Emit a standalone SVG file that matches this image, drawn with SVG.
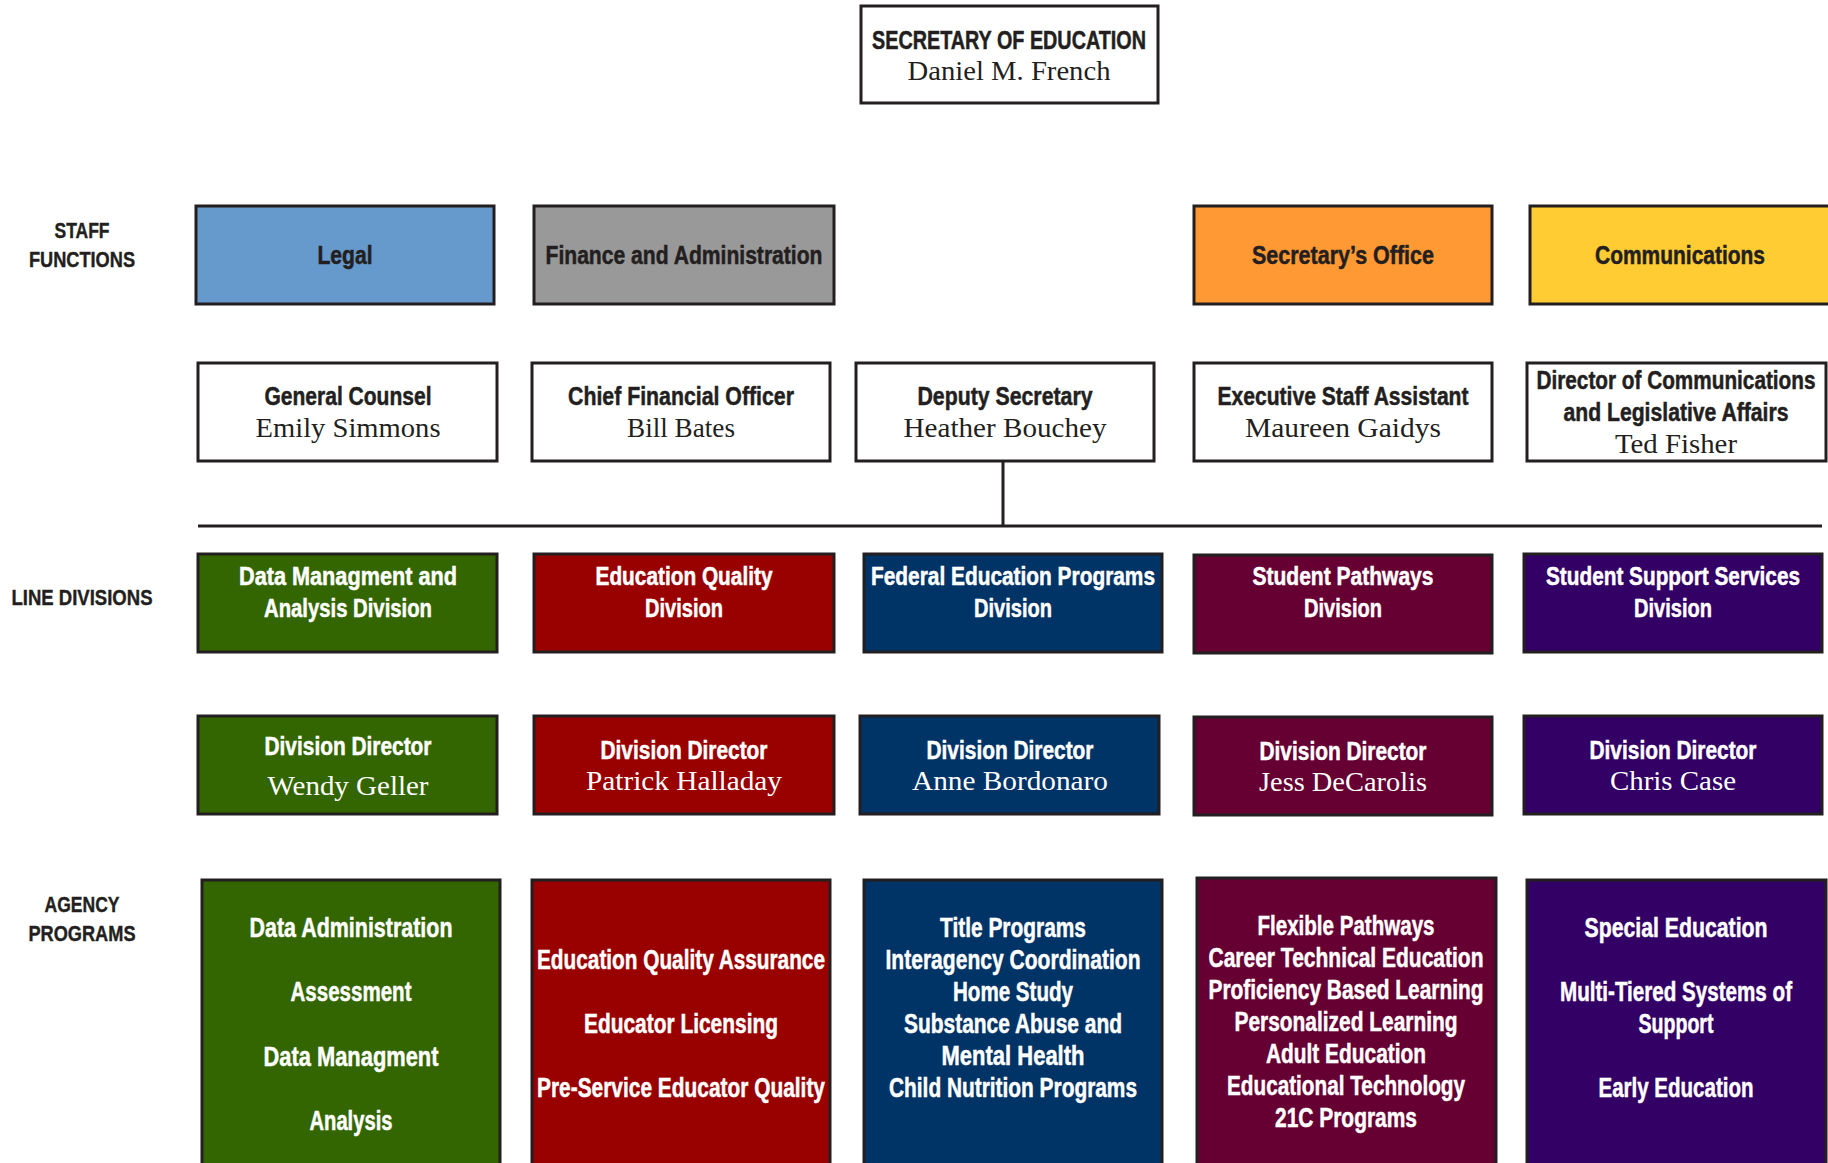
<svg xmlns="http://www.w3.org/2000/svg" width="1828" height="1163" viewBox="0 0 1828 1163">
<style>
.box{stroke:#231F20;stroke-width:3}
.w{fill:#FFFFFF}
.b{font-family:"Liberation Sans",Arial,sans-serif;font-weight:bold;font-size:25px;text-anchor:middle;fill:#231F20;stroke:#231F20;stroke-width:0.5}
.lt{fill:#FFFFFF;stroke:#FFFFFF}
.s{font-family:"Liberation Serif","DejaVu Serif",serif;font-size:28px;text-anchor:middle;fill:#231F20;stroke:none}
.sl{fill:#FFFFFF}
.p{font-family:"Liberation Sans",Arial,sans-serif;font-weight:bold;font-size:27px;text-anchor:middle;fill:#FFFFFF;stroke:#FFFFFF;stroke-width:0.5}
.lab{font-family:"Liberation Sans",Arial,sans-serif;font-weight:bold;font-size:22px;text-anchor:middle;fill:#231F20;stroke:#231F20;stroke-width:0.4}
</style>
<rect width="1828" height="1163" fill="#FFFFFF"/>

<g id="labels">
<text class="lab" x="82" y="238" textLength="55" lengthAdjust="spacingAndGlyphs">STAFF</text>
<text class="lab" x="82" y="267" textLength="106" lengthAdjust="spacingAndGlyphs">FUNCTIONS</text>
<text class="lab" x="82" y="605" textLength="141" lengthAdjust="spacingAndGlyphs">LINE DIVISIONS</text>
<text class="lab" x="82" y="912" textLength="75" lengthAdjust="spacingAndGlyphs">AGENCY</text>
<text class="lab" x="82" y="941" textLength="107" lengthAdjust="spacingAndGlyphs">PROGRAMS</text>
</g>

<g id="connectors" stroke="#231F20" stroke-width="3" fill="none">
<line x1="198" y1="526" x2="1822" y2="526"/>
<line x1="1003" y1="461" x2="1003" y2="526"/>
</g>

<g id="secretary">
<rect class="box w" x="861" y="6" width="297" height="97"/>
<text class="b" x="1009" y="49" font-size="27" textLength="274" lengthAdjust="spacingAndGlyphs">SECRETARY OF EDUCATION</text>
<text class="s" x="1009" y="80" textLength="203" lengthAdjust="spacingAndGlyphs">Daniel M. French</text>
</g>

<g id="legal">
<rect class="box" fill="#6699CC" x="196" y="206" width="298" height="98"/>
<text class="b" x="345" y="264" textLength="55" lengthAdjust="spacingAndGlyphs">Legal</text>
</g>
<g id="finance">
<rect class="box" fill="#999999" x="534" y="206" width="300" height="98"/>
<text class="b" x="684" y="264" textLength="277" lengthAdjust="spacingAndGlyphs">Finance and Administration</text>
</g>
<g id="secretarys-office">
<rect class="box" fill="#FF9933" x="1194" y="206" width="298" height="98"/>
<text class="b" x="1343" y="264" textLength="182" lengthAdjust="spacingAndGlyphs">Secretary’s Office</text>
</g>
<g id="communications">
<rect class="box" fill="#FFCC33" x="1530" y="206" width="300" height="98"/>
<text class="b" x="1680" y="264" textLength="170" lengthAdjust="spacingAndGlyphs">Communications</text>
</g>

<g id="general-counsel">
<rect class="box w" x="198" y="363" width="299" height="98"/>
<text class="b" x="348" y="405" textLength="167" lengthAdjust="spacingAndGlyphs">General Counsel</text>
<text class="s" x="348" y="437" textLength="185" lengthAdjust="spacingAndGlyphs">Emily Simmons</text>
</g>
<g id="cfo">
<rect class="box w" x="532" y="363" width="298" height="98"/>
<text class="b" x="681" y="405" textLength="226" lengthAdjust="spacingAndGlyphs">Chief Financial Officer</text>
<text class="s" x="681" y="437" textLength="108" lengthAdjust="spacingAndGlyphs">Bill Bates</text>
</g>
<g id="deputy">
<rect class="box w" x="856" y="363" width="298" height="98"/>
<text class="b" x="1005" y="405" textLength="175" lengthAdjust="spacingAndGlyphs">Deputy Secretary</text>
<text class="s" x="1005" y="437" textLength="203" lengthAdjust="spacingAndGlyphs">Heather Bouchey</text>
</g>
<g id="exec-assistant">
<rect class="box w" x="1194" y="363" width="298" height="98"/>
<text class="b" x="1343" y="405" textLength="251" lengthAdjust="spacingAndGlyphs">Executive Staff Assistant</text>
<text class="s" x="1343" y="437" textLength="196" lengthAdjust="spacingAndGlyphs">Maureen Gaidys</text>
</g>
<g id="dir-comm">
<rect class="box w" x="1527" y="363" width="299" height="98"/>
<text class="b" x="1676" y="389" textLength="279" lengthAdjust="spacingAndGlyphs">Director of Communications</text>
<text class="b" x="1676" y="421" textLength="225" lengthAdjust="spacingAndGlyphs">and Legislative Affairs</text>
<text class="s" x="1676" y="453" textLength="122" lengthAdjust="spacingAndGlyphs">Ted Fisher</text>
</g>

<g id="div-data">
<rect class="box" fill="#336600" x="198" y="554" width="299" height="98"/>
<text class="b lt" x="348" y="585" textLength="218" lengthAdjust="spacingAndGlyphs">Data Managment and</text>
<text class="b lt" x="348" y="617" textLength="168" lengthAdjust="spacingAndGlyphs">Analysis Division</text>
</g>
<g id="div-quality">
<rect class="box" fill="#990000" x="534" y="554" width="300" height="98"/>
<text class="b lt" x="684" y="585" textLength="177" lengthAdjust="spacingAndGlyphs">Education Quality</text>
<text class="b lt" x="684" y="617" textLength="78" lengthAdjust="spacingAndGlyphs">Division</text>
</g>
<g id="div-federal">
<rect class="box" fill="#003366" x="864" y="554" width="298" height="98"/>
<text class="b lt" x="1013" y="585" textLength="284" lengthAdjust="spacingAndGlyphs">Federal Education Programs</text>
<text class="b lt" x="1013" y="617" textLength="78" lengthAdjust="spacingAndGlyphs">Division</text>
</g>
<g id="div-pathways">
<rect class="box" fill="#660033" x="1194" y="555" width="298" height="98"/>
<text class="b lt" x="1343" y="585" textLength="181" lengthAdjust="spacingAndGlyphs">Student Pathways</text>
<text class="b lt" x="1343" y="617" textLength="78" lengthAdjust="spacingAndGlyphs">Division</text>
</g>
<g id="div-support">
<rect class="box" fill="#330066" x="1524" y="554" width="298" height="98"/>
<text class="b lt" x="1673" y="585" textLength="254" lengthAdjust="spacingAndGlyphs">Student Support Services</text>
<text class="b lt" x="1673" y="617" textLength="78" lengthAdjust="spacingAndGlyphs">Division</text>
</g>

<g id="dir-data">
<rect class="box" fill="#336600" x="198" y="716" width="299" height="98"/>
<text class="b lt" x="348" y="755" textLength="167" lengthAdjust="spacingAndGlyphs">Division Director</text>
<text class="s sl" x="348" y="795" textLength="161" lengthAdjust="spacingAndGlyphs">Wendy Geller</text>
</g>
<g id="dir-quality">
<rect class="box" fill="#990000" x="534" y="716" width="300" height="98"/>
<text class="b lt" x="684" y="759" textLength="167" lengthAdjust="spacingAndGlyphs">Division Director</text>
<text class="s sl" x="684" y="790" textLength="196" lengthAdjust="spacingAndGlyphs">Patrick Halladay</text>
</g>
<g id="dir-federal">
<rect class="box" fill="#003366" x="860" y="716" width="299" height="98"/>
<text class="b lt" x="1010" y="759" textLength="167" lengthAdjust="spacingAndGlyphs">Division Director</text>
<text class="s sl" x="1010" y="790" textLength="196" lengthAdjust="spacingAndGlyphs">Anne Bordonaro</text>
</g>
<g id="dir-pathways">
<rect class="box" fill="#660033" x="1194" y="717" width="298" height="98"/>
<text class="b lt" x="1343" y="760" textLength="167" lengthAdjust="spacingAndGlyphs">Division Director</text>
<text class="s sl" x="1343" y="791" textLength="168" lengthAdjust="spacingAndGlyphs">Jess DeCarolis</text>
</g>
<g id="dir-support">
<rect class="box" fill="#330066" x="1524" y="716" width="298" height="98"/>
<text class="b lt" x="1673" y="759" textLength="167" lengthAdjust="spacingAndGlyphs">Division Director</text>
<text class="s sl" x="1673" y="790" textLength="126" lengthAdjust="spacingAndGlyphs">Chris Case</text>
</g>

<g id="prog-data">
<rect class="box" fill="#336600" x="202" y="880" width="298" height="300"/>
<text class="p" x="351" y="937" textLength="203" lengthAdjust="spacingAndGlyphs">Data Administration</text>
<text class="p" x="351" y="1001" textLength="121" lengthAdjust="spacingAndGlyphs">Assessment</text>
<text class="p" x="351" y="1066" textLength="175" lengthAdjust="spacingAndGlyphs">Data Managment</text>
<text class="p" x="351" y="1130" textLength="83" lengthAdjust="spacingAndGlyphs">Analysis</text>
</g>
<g id="prog-quality">
<rect class="box" fill="#990000" x="532" y="880" width="298" height="300"/>
<text class="p" x="681" y="969" textLength="288" lengthAdjust="spacingAndGlyphs">Education Quality Assurance</text>
<text class="p" x="681" y="1033" textLength="194" lengthAdjust="spacingAndGlyphs">Educator Licensing</text>
<text class="p" x="681" y="1097" textLength="288" lengthAdjust="spacingAndGlyphs">Pre-Service Educator Quality</text>
</g>
<g id="prog-federal">
<rect class="box" fill="#003366" x="864" y="880" width="298" height="300"/>
<text class="p" x="1013" y="937" textLength="146" lengthAdjust="spacingAndGlyphs">Title Programs</text>
<text class="p" x="1013" y="969" textLength="255" lengthAdjust="spacingAndGlyphs">Interagency Coordination</text>
<text class="p" x="1013" y="1001" textLength="120" lengthAdjust="spacingAndGlyphs">Home Study</text>
<text class="p" x="1013" y="1033" textLength="218" lengthAdjust="spacingAndGlyphs">Substance Abuse and</text>
<text class="p" x="1013" y="1065" textLength="143" lengthAdjust="spacingAndGlyphs">Mental Health</text>
<text class="p" x="1013" y="1097" textLength="248" lengthAdjust="spacingAndGlyphs">Child Nutrition Programs</text>
</g>
<g id="prog-pathways">
<rect class="box" fill="#660033" x="1197" y="878" width="299" height="300"/>
<text class="p" x="1346" y="935" textLength="177" lengthAdjust="spacingAndGlyphs">Flexible Pathways</text>
<text class="p" x="1346" y="967" textLength="275" lengthAdjust="spacingAndGlyphs">Career Technical Education</text>
<text class="p" x="1346" y="999" textLength="275" lengthAdjust="spacingAndGlyphs">Proficiency Based Learning</text>
<text class="p" x="1346" y="1031" textLength="223" lengthAdjust="spacingAndGlyphs">Personalized Learning</text>
<text class="p" x="1346" y="1063" textLength="160" lengthAdjust="spacingAndGlyphs">Adult Education</text>
<text class="p" x="1346" y="1095" textLength="238" lengthAdjust="spacingAndGlyphs">Educational Technology</text>
<text class="p" x="1346" y="1127" textLength="142" lengthAdjust="spacingAndGlyphs">21C Programs</text>
</g>
<g id="prog-support">
<rect class="box" fill="#330066" x="1527" y="880" width="299" height="300"/>
<text class="p" x="1676" y="937" textLength="183" lengthAdjust="spacingAndGlyphs">Special Education</text>
<text class="p" x="1676" y="1001" textLength="232" lengthAdjust="spacingAndGlyphs">Multi-Tiered Systems of</text>
<text class="p" x="1676" y="1033" textLength="75" lengthAdjust="spacingAndGlyphs">Support</text>
<text class="p" x="1676" y="1097" textLength="155" lengthAdjust="spacingAndGlyphs">Early Education</text>
</g>
</svg>
